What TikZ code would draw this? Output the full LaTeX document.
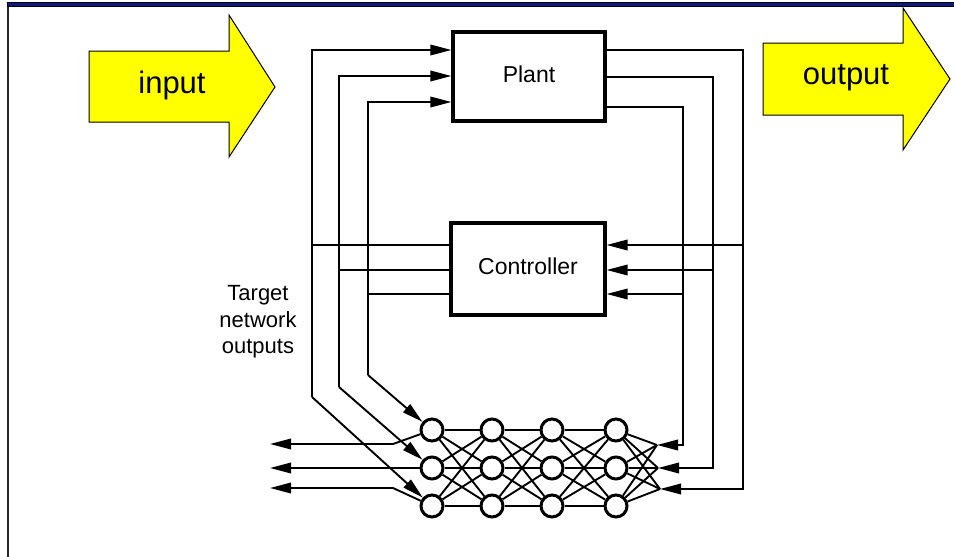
\documentclass[tikz,border=0pt]{standalone}
\usepackage{fontspec}
\setmainfont{Liberation Sans}
\usetikzlibrary{arrows.meta}
\definecolor{navybar}{HTML}{0A1A80}
\definecolor{arrowyellow}{HTML}{FFFF00}
\begin{document}
\begin{tikzpicture}[x=1pt,y=-1pt,
  wire/.style={line width=1.9pt},
  tip/.style={-{Triangle[length=21pt,width=10.5pt]}},
  box/.style={draw,line width=3.2pt,fill=white,text height=16.5pt,text depth=5pt,
    font=\fontsize{23}{27}\selectfont},
  neuron/.style={circle,draw,line width=3pt,minimum size=22pt,inner sep=0pt},
  syn/.style={line width=1.9pt},
  bigarrow/.style={fill=arrowyellow,draw=black,line width=1pt},
  bigtxt/.style={font=\fontsize{31}{37}\selectfont,inner sep=0pt,anchor=base},
]
\useasboundingbox (0,0) rectangle (954,557);
\fill[white] (0,0) rectangle (954,557);

% frame
\draw[fill=navybar,line width=0.6pt] (7,2.5) rectangle (956,6.5);
\draw[line width=1.5pt,black!85] (8,6.5) -- (8,557);

% big yellow arrows
\draw[bigarrow] (89,51) -- (229,51) -- (229,15) -- (275,87) -- (229,157) -- (229,122) -- (89,122) -- cycle;
\draw[bigarrow] (763,43) -- (903,43) -- (903,8) -- (950,79) -- (903,150) -- (903,115) -- (763,115) -- cycle;
\node[bigtxt] (intext) at (172,93) {input};
\node[bigtxt] (outtext) at (846,84) {output};

% boxes
\node[box,minimum width=152pt,minimum height=89pt] (plant) at (529,76.5) {Plant};
\node[box,minimum width=154pt,minimum height=92pt] (controller) at (528,269) {Controller};

% label
\node[align=center,font=\fontsize{22}{26.5}\selectfont,inner sep=0pt] (tgt) at (258,322) {Target\\network\\outputs};

% neurons
\foreach \c/\x in {1/432,2/492,3/552,4/616}
  \foreach \r/\y in {1/430,2/468,3/506}
    \node[neuron] (n\r\c) at (\x,\y) {};

% synapses
\foreach \c [evaluate=\c as \d using int(\c+1)] in {1,2,3}
  \foreach \i in {1,2,3}
    \foreach \j in {1,2,3}
      \draw[syn] (n\i\c) -- (n\j\d);

% fan-in points on the right
\coordinate (f1) at (657,445);
\coordinate (f2) at (658,468);
\coordinate (f3) at (660,489);
\foreach \i in {1,2,3}
  \foreach \j in {1,2,3}
    \draw[syn] (n\i4) -- (f\j);

% right lanes
\coordinate (rd) at (683,445);
\coordinate (re) at (713,468);
\coordinate (rf) at (743,489);
\draw[wire,tip] (plant.east |- 0,107) -| (rd) -- (f1);
\draw[wire,tip] (plant.east |- 0,77) -| (re) -- (f2);
\draw[wire,tip] (plant.east |- 0,50) -| (rf) -- (f3);
\draw[wire,tip] (rf |- 0,245) -- (controller.east |- 0,245);
\draw[wire,tip] (re |- 0,270) -- (controller.east |- 0,270);
\draw[wire,tip] (rd |- 0,294) -- (controller.east |- 0,294);

% left lanes
\coordinate (la) at (312,397);
\coordinate (lb) at (339,387);
\coordinate (lc) at (368,375);
\draw[wire,tip] (la) |- (plant.west |- 0,50);
\draw[wire,tip] (lb) |- (plant.west |- 0,76);
\draw[wire,tip] (lc) |- (plant.west |- 0,102);
\draw[wire,tip] (la) -- (n31);
\draw[wire,tip] (lb) -- (n21);
\draw[wire,tip] (lc) -- (n11);
\draw[wire] (controller.west |- 0,245) -- (la |- 0,245);
\draw[wire] (controller.west |- 0,270) -- (lb |- 0,270);
\draw[wire] (controller.west |- 0,294) -- (lc |- 0,294);

% network outputs
\coordinate (k1) at (393,444);
\coordinate (k3) at (393,488);
\coordinate (o1) at (270,444);
\coordinate (o2) at (270,468);
\coordinate (o3) at (270,488);
\draw[wire,tip] (n11) -- (k1) -- (o1);
\draw[wire,tip] (n21) -- (o2);
\draw[wire,tip] (n31) -- (k3) -- (o3);
\end{tikzpicture}
\end{document}
